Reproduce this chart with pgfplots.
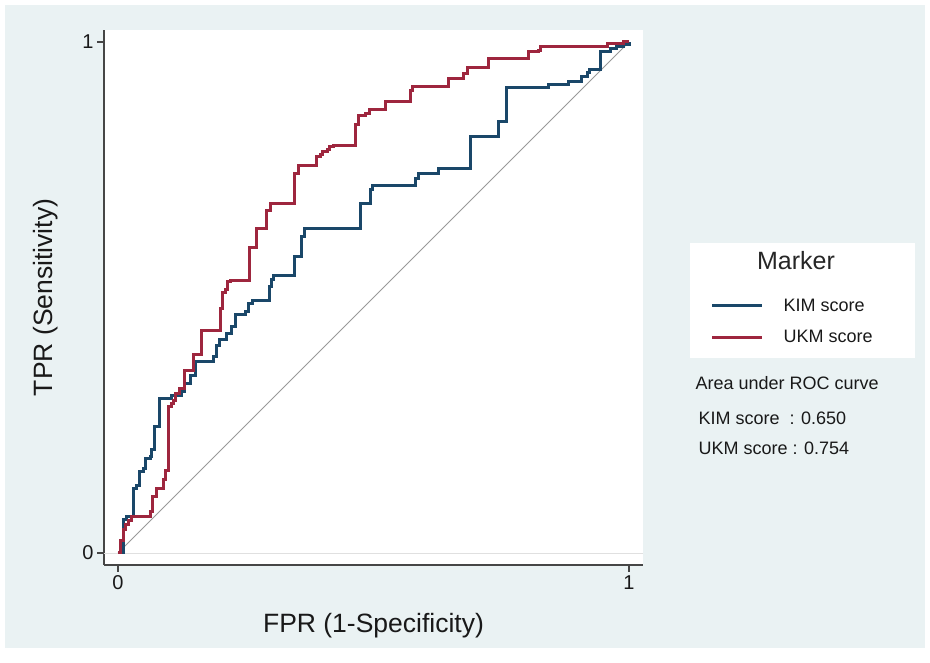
\documentclass[border=0pt]{standalone}
\usepackage{pgfplots}
\pgfplotsset{compat=1.18}
\usepackage{fontspec}
\setmainfont{Liberation Sans}
\definecolor{bgblue}{RGB}{234,242,243}
\definecolor{kimc}{RGB}{26,71,105}
\definecolor{ukmc}{RGB}{158,38,62}
\definecolor{axc}{RGB}{70,70,70}
\newcommand{\fs}[1]{\fontsize{#1}{#1}\selectfont}
\begin{document}
\begin{tikzpicture}[x=1pt,y=1pt]
\useasboundingbox (0,0) rectangle (930,663);
\fill[white] (0,0) rectangle (930,663);
\fill[bgblue] (5,15) rectangle (925,658);
\fill[white] (690,305) rectangle (915,420);
\node[anchor=base, font=\fs{25}, text=black!85] at (796,393) {Marker};
\begin{axis}[
  at={(104pt,98pt)}, anchor=south west,
  scale only axis, width=539pt, height=535pt,
  xmin=-0.0274, xmax=1.0274, ymin=-0.0235, ymax=1.0235,
  axis background/.style={fill=white},
  axis x line*=bottom, axis y line*=left,
  axis line style={axc, line width=1.4pt, -},
  xtick={0,1}, ytick={0,1},
  xticklabels={0,1}, yticklabels={0,1},
  tick align=outside, major tick length=7pt,
  tick style={axc, line width=1.2pt},
  extra y ticks={0}, extra y tick labels={},
  extra y tick style={ymajorgrids=true, major tick length=0pt},
  grid style={black!12, line width=0.8pt},
  ticklabel style={font=\fs{20}, text=black!90},
  /pgf/number format/assume math mode=true,
  xlabel={FPR (1-Specificity)}, ylabel={TPR (Sensitivity)},
  label style={font=\fs{26.5}, text=black!90},
  xlabel style={at={(axis description cs:0.5,-0.114)}, anchor=center},
  ylabel style={at={(axis description cs:-0.109,0.5)}, anchor=center, rotate=0},
  legend style={at={(axis description cs:1.125,0.502)}, anchor=north west,
    draw=none, fill=none, font=\fs{18}, row sep=14pt, inner sep=0pt,
    nodes={inner sep=2pt, text=black!90},
    /tikz/every even column/.style={column sep=0pt}},
  legend cell align=left,
  legend image code/.code={\draw[#1] (0pt,0pt) -- (50pt,0pt);},
  clip=false,
]
\addplot[black!40, line width=0.9pt, forget plot] coordinates {(0,0) (1,1)};
\addplot[kimc, line width=3pt, line join=miter] coordinates {
(0,0)(0.010,0)(0.010,0.065)(0.017,0.065)(0.017,0.072)(0.030,0.072)(0.030,0.127)
(0.0365,0.127)(0.0365,0.133)(0.043,0.133)(0.043,0.159)(0.0495,0.159)(0.0495,0.166)
(0.053,0.166)(0.053,0.185)(0.063,0.185)(0.063,0.189)(0.066,0.189)(0.066,0.202)
(0.072,0.202)(0.072,0.247)(0.082,0.247)(0.082,0.303)(0.105,0.303)(0.105,0.309)
(0.124,0.309)(0.124,0.316)(0.131,0.316)(0.131,0.332)(0.141,0.332)(0.141,0.348)
(0.151,0.348)(0.151,0.374)(0.187,0.374)(0.187,0.384)(0.193,0.384)(0.193,0.407)
(0.198,0.407)(0.198,0.417)(0.212,0.417)(0.212,0.430)(0.222,0.430)(0.222,0.443)
(0.230,0.443)(0.230,0.466)(0.250,0.466)(0.250,0.472)(0.255,0.472)(0.255,0.489)
(0.263,0.489)(0.263,0.495)(0.296,0.495)(0.296,0.521)(0.300,0.521)(0.300,0.535)
(0.305,0.535)(0.305,0.544)(0.346,0.544)(0.346,0.581)(0.359,0.581)(0.359,0.619)
(0.364,0.619)(0.364,0.635)(0.474,0.635)(0.474,0.684)(0.494,0.684)(0.494,0.712)
(0.499,0.712)(0.499,0.720)(0.582,0.720)(0.582,0.733)(0.589,0.733)(0.589,0.743)
(0.628,0.743)(0.628,0.753)(0.689,0.753)(0.689,0.816)(0.744,0.816)(0.744,0.845)
(0.761,0.845)(0.761,0.910)(0.843,0.910)(0.843,0.916)(0.882,0.916)(0.882,0.923)
(0.908,0.923)(0.908,0.933)(0.918,0.933)(0.918,0.940)(0.922,0.940)(0.922,0.946)
(0.944,0.946)(0.944,0.981)(0.964,0.981)(0.964,0.987)(0.975,0.987)(0.975,0.991)
(0.989,0.991)(0.989,0.995)(1,0.995)(1,1)};
\addlegendentry{\hspace{18pt}KIM score}
\addplot[ukmc, line width=3pt, line join=miter] coordinates {
(0,0)(0.005,0)(0.005,0.025)(0.010,0.025)(0.010,0.045)(0.014,0.045)(0.014,0.055)
(0.020,0.055)(0.020,0.063)(0.027,0.063)(0.027,0.072)(0.063,0.072)(0.063,0.081)
(0.068,0.081)(0.068,0.110)(0.076,0.110)(0.076,0.127)(0.089,0.127)(0.089,0.143)
(0.093,0.143)(0.093,0.162)(0.098,0.162)(0.098,0.286)(0.104,0.286)(0.104,0.292)
(0.108,0.292)(0.108,0.299)(0.113,0.299)(0.113,0.313)(0.121,0.313)(0.121,0.322)
(0.130,0.322)(0.130,0.358)(0.147,0.358)(0.147,0.388)(0.164,0.388)(0.164,0.436)
(0.200,0.436)(0.200,0.479)(0.204,0.479)(0.204,0.509)(0.211,0.509)(0.211,0.515)
(0.215,0.515)(0.215,0.531)(0.220,0.531)(0.220,0.534)(0.258,0.534)(0.258,0.597)
(0.271,0.597)(0.271,0.635)(0.291,0.635)(0.291,0.671)(0.298,0.671)(0.298,0.684)
(0.346,0.684)(0.346,0.743)(0.353,0.743)(0.353,0.759)(0.389,0.759)(0.389,0.776)
(0.396,0.776)(0.396,0.780)(0.401,0.780)(0.401,0.786)(0.410,0.786)(0.410,0.790)
(0.414,0.790)(0.414,0.795)(0.421,0.795)(0.421,0.798)(0.464,0.798)(0.464,0.838)
(0.470,0.838)(0.470,0.857)(0.485,0.857)(0.485,0.861)(0.493,0.861)(0.493,0.868)
(0.523,0.868)(0.523,0.884)(0.572,0.884)(0.572,0.906)(0.577,0.906)(0.577,0.913)
(0.646,0.913)(0.646,0.928)(0.676,0.928)(0.676,0.938)(0.683,0.938)(0.683,0.951)
(0.725,0.951)(0.725,0.968)(0.804,0.968)(0.804,0.981)(0.822,0.981)(0.822,0.984)
(0.826,0.984)(0.826,0.992)(0.957,0.992)(0.957,0.997)(0.990,0.997)(0.990,1)(1,1)};
\addlegendentry{\hspace{18pt}UKM score}
\end{axis}
\node[anchor=base west, font=\fs{18}, text=black!90] at (692,273) {Area under ROC curve};
\node[anchor=base west, font=\fs{18}, text=black!90] at (695,238) {KIM score\ \ : 0.650};
\node[anchor=base west, font=\fs{18}, text=black!90] at (695,208) {UKM score : 0.754};
\end{tikzpicture}
\end{document}
